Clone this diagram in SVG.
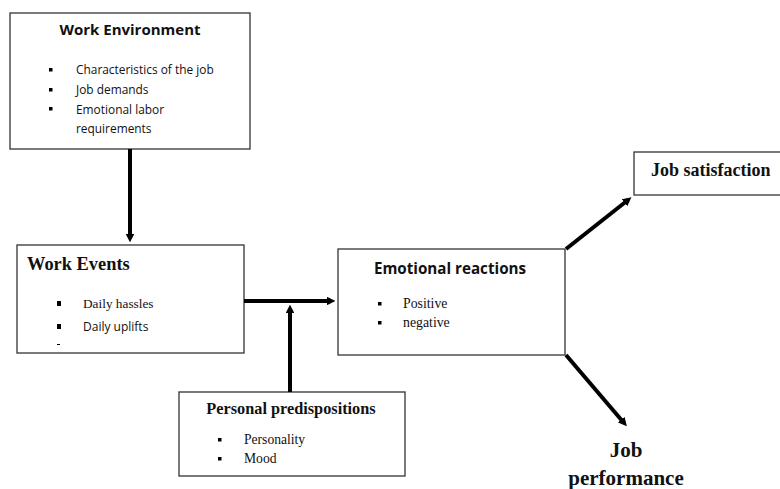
<svg xmlns="http://www.w3.org/2000/svg" width="780" height="489" viewBox="0 0 780 489">
<style>
.box{fill:#fff;stroke:#333;stroke-width:1.3}
.sans{font-family:"Open Sans","Liberation Sans",sans-serif;fill:#111}
.serif{font-family:"Liberation Serif","Times New Roman",serif;fill:#111}
.b{font-weight:bold}
.con{stroke:#000;stroke-width:4;fill:none}
.bul{fill:#000}
</style>
<defs>
<marker id="ah" viewBox="0 0 10 10" refX="5" refY="5" markerWidth="2.2" markerHeight="2.2" orient="auto" markerUnits="strokeWidth">
<path d="M0,0 L10,5 L0,10 z" fill="#000"/>
</marker>
</defs>
<rect width="780" height="489" fill="#fff"/>
<g id="work-environment">
<rect class="box" x="10" y="13" width="240" height="136"/>
<text class="sans b" x="130" y="35" font-size="15" text-anchor="middle">Work Environment</text>
<rect class="bul" x="49" y="68" width="3.5" height="3.5"/>
<rect class="bul" x="49" y="88" width="3.5" height="3.5"/>
<rect class="bul" x="49" y="107" width="3.5" height="3.5"/>
<text class="sans" x="76" y="74" font-size="11.9">Characteristics of the job</text>
<text class="sans" x="76" y="94" font-size="11.9">Job demands</text>
<text class="sans" x="76" y="114" font-size="11.9">Emotional labor</text>
<text class="sans" x="76" y="133" font-size="11.9">requirements</text>
</g>
<g id="work-events">
<rect class="box" x="17" y="245" width="227" height="108"/>
<text class="serif b" x="27" y="270" font-size="18.4">Work Events</text>
<rect class="bul" x="57" y="301" width="4" height="5"/>
<rect class="bul" x="57" y="324" width="4" height="5"/>
<text class="serif" x="83" y="308" font-size="13.3">Daily hassles</text>
<text class="sans" x="83" y="331" font-size="12">Daily uplifts</text>
<rect class="bul" x="57" y="344" width="3" height="1"/>
</g>
<g id="emotional-reactions">
<rect class="box" x="338" y="249" width="227" height="106"/>
<text class="sans b" x="450" y="274" font-size="15.2" text-anchor="middle">Emotional reactions</text>
<rect class="bul" x="378" y="302" width="3.5" height="3.5"/>
<rect class="bul" x="378" y="321" width="3.5" height="3.5"/>
<text class="serif" x="403" y="308" font-size="13.8">Positive</text>
<text class="serif" x="403" y="327" font-size="13.8">negative</text>
</g>
<g id="personal-predispositions">
<rect class="box" x="179" y="392" width="226" height="84"/>
<text class="serif b" x="291" y="414" font-size="16.3" text-anchor="middle">Personal predispositions</text>
<rect class="bul" x="218" y="438" width="3.5" height="3.5"/>
<rect class="bul" x="218" y="457" width="3.5" height="3.5"/>
<text class="serif" x="244" y="444" font-size="13.6">Personality</text>
<text class="serif" x="244" y="463" font-size="13.6">Mood</text>
</g>
<g id="job-satisfaction">
<rect class="box" x="634" y="152" width="150" height="43"/>
<text class="serif b" x="651" y="176" font-size="18">Job satisfaction</text>
</g>
<g id="job-performance">
<text class="serif b" x="626" y="457" font-size="21" text-anchor="middle">Job</text>
<text class="serif b" x="626" y="485" font-size="21" text-anchor="middle">performance</text>
</g>
<g id="connectors">
<line class="con" x1="130" y1="149" x2="130" y2="238" marker-end="url(#ah)"/>
<line class="con" x1="244" y1="301" x2="331" y2="301" marker-end="url(#ah)"/>
<line class="con" x1="290" y1="392" x2="290" y2="309" marker-end="url(#ah)"/>
<line class="con" x1="566" y1="249" x2="628" y2="200" marker-end="url(#ah)"/>
<line class="con" x1="566" y1="355" x2="624" y2="423" marker-end="url(#ah)"/>
</g>
</svg>
